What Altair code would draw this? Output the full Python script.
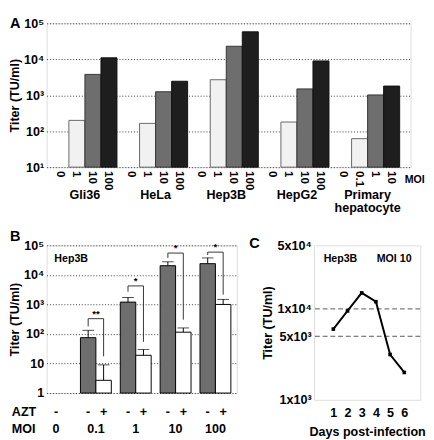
import altair as alt
import pandas as pd

FONT = "Liberation Sans"

# ---------------- Panel A data ----------------
cells = ["Gli36", "HeLa", "Hep3B", "HepG2", "Primary hepatocyte"]
cell_names = ["Gli36", "HeLa", "Hep3B", "HepG2", "Primary\nhepatocyte"]
moi_std = ["0", "1", "10", "100"]
moi_primary = ["0", "0.1", "1", "10"]
gli36 = [None, 200, 3800, 11000]
hela = [None, 165, 1250, 2450]
hep3b = [None, 2700, 23000, 58000]
hepg2 = [None, 180, 1500, 9000]
primary = [None, 62, 1020, 1800]

# ---------------- Panel B data ----------------
moi_b = ["0", "0.1", "1", "10", "100"]
azt_levels = ["-", "+"]
mock_mean = [None, 75, 1200, 20500, 24000]
mock_upper = [None, 133, 1720, 27800, 37600]
azt_mean = [None, 2.7, 19, 115, 1000]
azt_upper = [None, 9, 30, 160, 1480]
bracket_level = [None, 330, 4240, 54800, 59000]
bracket_left = [None, 180, 2700, 37600, 47100]
bracket_right = [None, 17.5, 54, 305, 2150]
stars = ["", "**", "*", "*", "*"]

# ---------------- Panel C data ----------------
days = [1, 2, 3, 4, 5, 6]
titer_c = [6000, 9500, 15000, 12000, 3150, 2000]
c_grid = [5000, 10000]

# ---------------- layout constants (group step in bar widths) ----------------
GA = 4.41   # panel A: group step measured in bar widths
GB = 2.58   # panel B: group step measured in bar widths

# ---------------- build tables ----------------
series_a = [gli36, hela, hep3b, hepg2, primary]
rows_a = []
for gi, (cell, vals) in enumerate(zip(cells, series_a)):
    labels = moi_primary if cell == "Primary hepatocyte" else moi_std
    for slot, (lab, v) in enumerate(zip(labels, vals)):
        u = gi * GA + slot
        rows_a.append({"cell": cell, "slot": "s%d" % slot, "moi": lab, "value": v,
                       "u0": u, "u1": u + 1, "uc": u + 0.5})
dfA = pd.DataFrame(rows_a)
dfA_bars = dfA.dropna(subset=["value"])
dfA_names = pd.DataFrame({"name": cell_names, "uc": [gi * GA + 2 for gi in range(len(cells))]})

rows_b, rows_br, rows_bh = [], [], []
for gi, m in enumerate(moi_b):
    if mock_mean[gi] is None:
        continue
    for side, (a, mean, up, bot) in enumerate(zip(azt_levels, [mock_mean[gi], azt_mean[gi]],
                                                  [mock_upper[gi], azt_upper[gi]],
                                                  [bracket_left[gi], bracket_right[gi]])):
        u = gi * GB + side
        rows_b.append({"moi": m, "azt": a, "side": side, "mean": mean, "upper": up,
                       "u0": u, "u1": u + 1, "uc": u + 0.5})
        rows_br.append({"uc": u + 0.5, "bottom": bot, "level": bracket_level[gi]})
    rows_bh.append({"ul": gi * GB + 0.5, "ur": gi * GB + 1.5, "um": gi * GB + 1,
                    "level": bracket_level[gi], "star": stars[gi]})
dfB = pd.DataFrame(rows_b)
dfB_br = pd.DataFrame(rows_br)
dfB_bh = pd.DataFrame(rows_bh)
dfB_lab = pd.DataFrame({"moi": moi_b, "azt0": ["-", "", "", "", ""],
                        "um": [gi * GB + 1 for gi in range(len(moi_b))]})
dfC = pd.DataFrame({"day": days, "titer": titer_c})
dfC_grid = pd.DataFrame({"g": c_grid})
one = pd.DataFrame({"k": [0]})

sup = "['⁰','¹','²','³','⁴','⁵'][round(log(datum.value)/LN10)]"


def yaxis(values, expr):
    return alt.Axis(values=values, labelExpr=expr,
                    title="Titer (TU/ml)", titleFont=FONT, titleFontSize=13,
                    titleFontWeight="bold", titlePadding=2, titleColor="black",
                    labelFont=FONT, labelFontSize=13, labelFontWeight="bold",
                    labelColor="black", labelPadding=3,
                    ticks=False, domain=False, grid=True,
                    gridDash=[1, 2], gridColor="#333", gridWidth=1)


def txt(size=13, **kw):
    return dict(font=FONT, fontSize=size, fontWeight="bold", color="black", **kw)


# ---------------- Panel A chart ----------------
WA, HA = 377, 149
sxA = alt.Scale(domain=[-0.39, 22.32], nice=False, zero=False)
XA0 = alt.X("u0:Q", scale=sxA, axis=None)
YA = alt.Y("value:Q", scale=alt.Scale(type="log", domain=[10, 100000]),
           axis=yaxis([10, 100, 1000, 10000, 100000], "'10' + " + sup))

barsA = alt.Chart(dfA_bars).mark_bar(strokeWidth=1).encode(
    x=XA0, x2="u1:Q", y=YA, y2=alt.datum(10),
    fill=alt.Fill("slot:N", scale=alt.Scale(domain=["s1", "s2", "s3"],
                                            range=["#f1f1f1", "#6e6e6e", "#1e1e1e"]), legend=None),
    stroke=alt.Stroke("slot:N", scale=alt.Scale(domain=["s1", "s2", "s3"],
                                                range=["#666666", "#333333", "#111111"]), legend=None),
)
moiA = alt.Chart(dfA).mark_text(angle=90, align="left", baseline="middle", **txt(12)).encode(
    x=alt.X("uc:Q", scale=sxA, axis=None), y=alt.value(HA + 4), text="moi:N")
namesA = alt.Chart(dfA_names).mark_text(align="center", baseline="middle", lineBreak="\n",
                                        lineHeight=13, **txt(13)).encode(
    x=alt.X("uc:Q", scale=sxA, axis=None), y=alt.value(HA + 29), text="name:N")
moiWordA = alt.Chart(one).mark_text(text="MOI", align="left", baseline="middle", **txt(11)).encode(
    x=alt.value(WA - 6), y=alt.value(HA + 13))
letterA = alt.Chart(one).mark_text(text="A", align="left", baseline="top", **txt(15)).encode(
    x=alt.value(-38), y=alt.value(-7))
panelA = alt.layer(barsA, moiA, namesA, moiWordA, letterA).properties(width=WA, height=HA)

# ---------------- Panel B chart ----------------
WB, HB = 197, 153
sxB = alt.Scale(domain=[0.39, 0.39 + WB / 16.0], nice=False, zero=False)
YB = alt.Y("mean:Q", scale=alt.Scale(type="log", domain=[1, 100000]),
           axis=yaxis([1, 10, 100, 1000, 10000, 100000],
                      "datum.value == 1 ? '1' : datum.value == 10 ? '10' : '10' + " + sup))
barsMock = alt.Chart(dfB).transform_filter("datum.side == 0").mark_bar(
    stroke="black", strokeWidth=1, fill="#6e6e6e").encode(
    x=alt.X("u0:Q", scale=sxB, axis=None), x2="u1:Q", y=YB, y2=alt.datum(1))
barsAzt = alt.Chart(dfB).transform_filter("datum.side == 1").mark_bar(
    stroke="black", strokeWidth=1, fill="#ffffff").encode(
    x=alt.X("u0:Q", scale=sxB, axis=None), x2="u1:Q", y=alt.Y("mean:Q"), y2=alt.datum(1))
errB = alt.Chart(dfB).mark_rule(color="black", strokeWidth=1).encode(
    x=alt.X("uc:Q", scale=sxB, axis=None), y=alt.Y("mean:Q"), y2="upper:Q")
capB = alt.Chart(dfB).mark_tick(orient="horizontal", size=12, thickness=1, color="black").encode(
    x=alt.X("uc:Q", scale=sxB, axis=None), y=alt.Y("upper:Q"))
legB = alt.Chart(dfB_br).mark_rule(color="#333", strokeWidth=1).encode(
    x=alt.X("uc:Q", scale=sxB, axis=None), y=alt.Y("bottom:Q"), y2="level:Q")
horB = alt.Chart(dfB_bh).mark_rule(color="#333", strokeWidth=1).encode(
    x=alt.X("ul:Q", scale=sxB, axis=None), x2="ur:Q", y=alt.Y("level:Q"))
starB = alt.Chart(dfB_bh).mark_text(baseline="middle", dy=-5, **txt(10)).encode(
    x=alt.X("um:Q", scale=sxB, axis=None), y=alt.Y("level:Q"), text="star:N")
aztLab = alt.Chart(dfB).mark_text(baseline="middle", **txt(13)).encode(
    x=alt.X("uc:Q", scale=sxB, axis=None), y=alt.value(HB + 20), text="azt:N")
azt0Lab = alt.Chart(dfB_lab).mark_text(baseline="middle", **txt(13)).encode(
    x=alt.X("um:Q", scale=sxB, axis=None), y=alt.value(HB + 20), text="azt0:N")
moiLab = alt.Chart(dfB_lab).mark_text(baseline="middle", **txt(13)).encode(
    x=alt.X("um:Q", scale=sxB, axis=None), y=alt.value(HB + 37), text="moi:N")
rowAzt = alt.Chart(one).mark_text(text="AZT", align="left", baseline="middle", **txt(13)).encode(
    x=alt.value(-36), y=alt.value(HB + 20))
rowMoi = alt.Chart(one).mark_text(text="MOI", align="left", baseline="middle", **txt(13)).encode(
    x=alt.value(-36), y=alt.value(HB + 37))
hepB = alt.Chart(one).mark_text(text="Hep3B", align="left", baseline="middle", **txt(11)).encode(
    x=alt.value(8), y=alt.value(14))
letterB = alt.Chart(one).mark_text(text="B", align="left", baseline="middle", **txt(15)).encode(
    x=alt.value(-38), y=alt.value(-9))
panelB = alt.layer(barsMock, barsAzt, errB, capB, legB, horB, starB, aztLab, azt0Lab, moiLab,
                   rowAzt, rowMoi, hepB, letterB).properties(width=WB, height=HB)

# ---------------- Panel C chart ----------------
WC, HC = 110, 160
XC = alt.X("day:Q", scale=alt.Scale(domain=[-0.36, 7.12], nice=False, zero=False),
           axis=alt.Axis(values=days, title="Days post-infection", titleFont=FONT, titleFontSize=13,
                         titleFontWeight="bold", titleColor="black", titlePadding=7,
                         labelFont=FONT, labelFontSize=13, labelFontWeight="bold", labelColor="black",
                         labelPadding=7, ticks=False, domain=False, grid=False))
YC = alt.Y("titer:Q", scale=alt.Scale(type="log", domain=[1000, 50000], nice=False),
           axis=alt.Axis(values=[1000, 5000, 10000, 50000],
                         labelExpr="(datum.value < 2000 || (datum.value > 9000 && datum.value < 20000) ? '1x10' : '5x10') + (datum.value < 9000 ? '³' : '⁴')",
                         title="Titer (TU/ml)", titleFont=FONT, titleFontSize=13,
                         titleFontWeight="bold", titlePadding=3, titleColor="black",
                         labelFont=FONT, labelFontSize=13, labelFontWeight="bold",
                         labelColor="black", labelPadding=3,
                         ticks=False, domain=False, grid=False))
gridC = alt.Chart(dfC_grid).mark_rule(color="#555", strokeDash=[5, 3], strokeWidth=1).encode(
    y=alt.Y("g:Q"))
lineC = alt.Chart(dfC).mark_line(color="black", strokeWidth=2).encode(x=XC, y=YC)
ptsC = alt.Chart(dfC).mark_point(shape="square", filled=True, size=14, color="black", opacity=1).encode(
    x=XC, y=YC)
hepC = alt.Chart(one).mark_text(text="Hep3B", align="left", baseline="middle", **txt(11)).encode(
    x=alt.value(10), y=alt.value(14))
moiC = alt.Chart(one).mark_text(text="MOI 10", align="left", baseline="middle", **txt(11)).encode(
    x=alt.value(65), y=alt.value(14))
letterC = alt.Chart(one).mark_text(text="C", align="left", baseline="middle", **txt(15)).encode(
    x=alt.value(-67), y=alt.value(-2))
panelC = alt.layer(gridC, lineC, ptsC, hepC, moiC, letterC).properties(width=WC, height=HC)

row2 = alt.hconcat(panelB, panelC, spacing=80, bounds="flush")
chart = alt.vconcat(panelA, row2, spacing=81, bounds="flush").configure_view(
    stroke="black", strokeWidth=1).configure(padding=0)

chart.save("out.html", embed_options={"renderer": "svg", "actions": False})
